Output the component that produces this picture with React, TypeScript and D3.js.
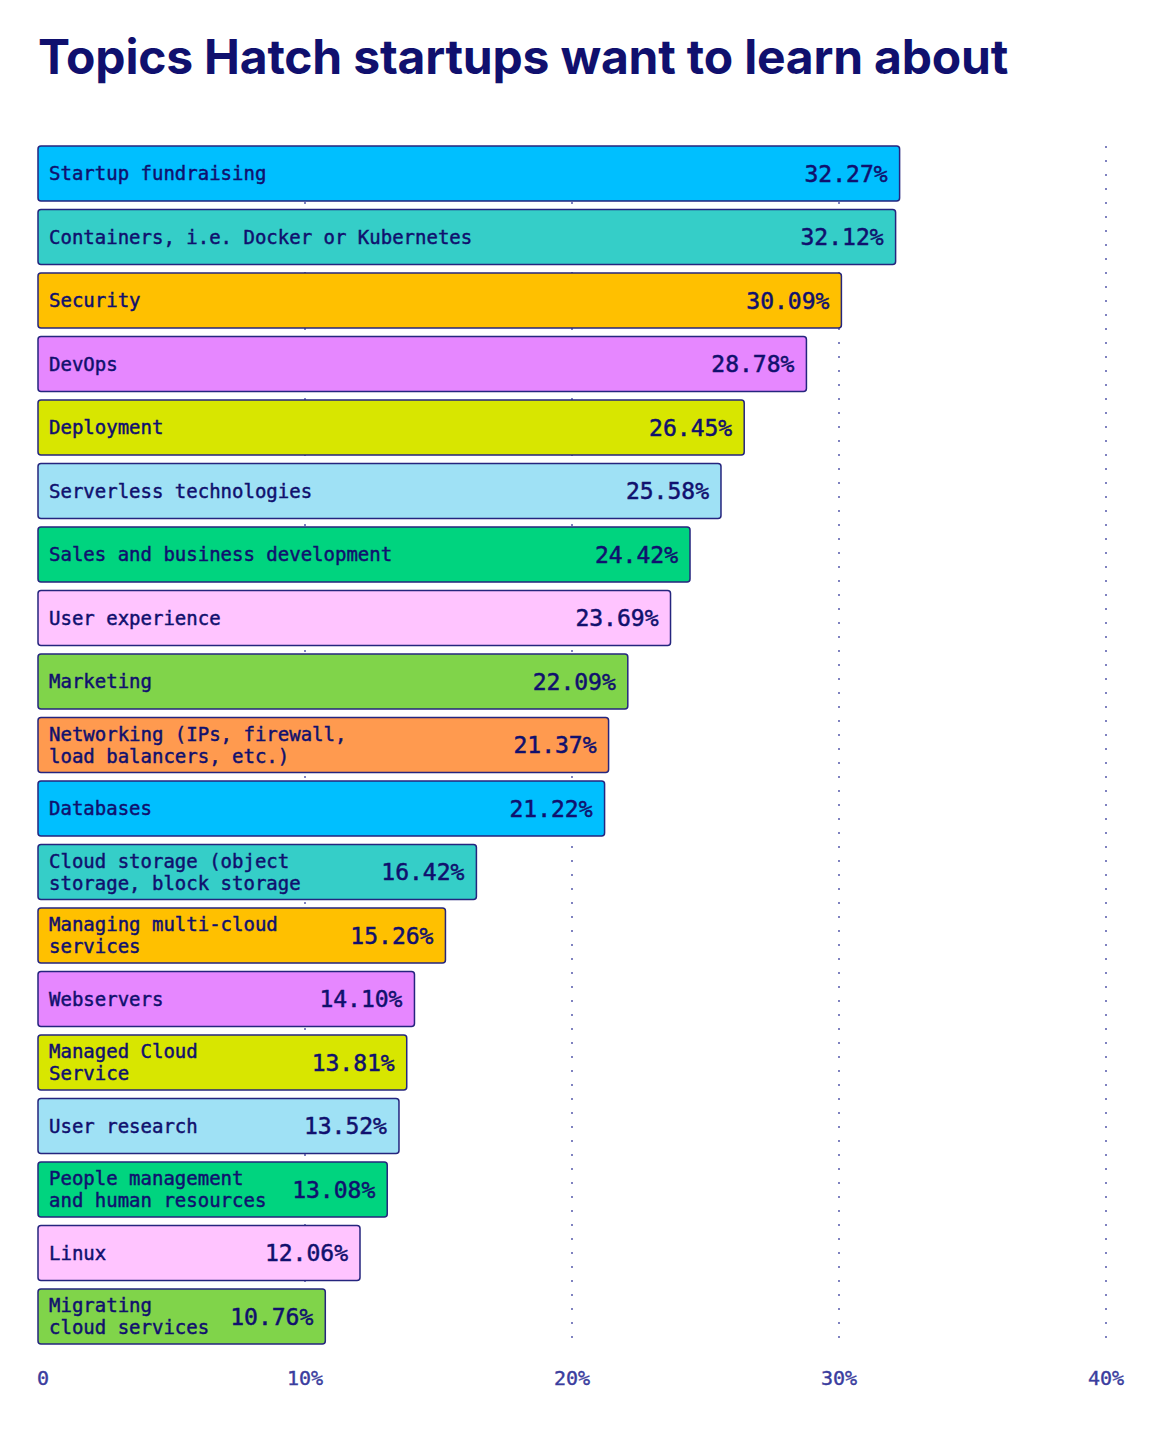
import React, { useEffect, useRef } from 'react';
import * as d3 from 'd3';

// Topic labels (multi-line labels are split on "\n")
const topics = [
  'Startup fundraising',
  'Containers, i.e. Docker or Kubernetes',
  'Security',
  'DevOps',
  'Deployment',
  'Serverless technologies',
  'Sales and business development',
  'User experience',
  'Marketing',
  'Networking (IPs, firewall,\nload balancers, etc.)',
  'Databases',
  'Cloud storage (object\nstorage, block storage',
  'Managing multi-cloud\nservices',
  'Webservers',
  'Managed Cloud\nService',
  'User research',
  'People management\nand human resources',
  'Linux',
  'Migrating\ncloud services',
];

// Share of respondents, in percent
const shares = [
  32.27, 32.12, 30.09, 28.78, 26.45, 25.58, 24.42, 23.69, 22.09, 21.37,
  21.22, 16.42, 15.26, 14.1, 13.81, 13.52, 13.08, 12.06, 10.76,
];

const tickValues = [0, 10, 20, 30, 40];

const palette = [
  '#00bfff', '#35cec8', '#ffc000', '#e687ff', '#d8e600',
  '#9fe1f5', '#00d47f', '#ffc4ff', '#80d44a', '#ff9a4f',
];

const NAVY = '#10106e';
const AXIS_TEXT = '#3a3d9e';
const MONO = '"DejaVu Sans Mono", "Liberation Mono", monospace';

const Chart: React.FC = () => {
  const ref = useRef<SVGSVGElement>(null);

  useEffect(() => {
    if (!ref.current) return;
    const width = 1162;
    const height = 1432;
    const margin = { top: 146, left: 38, bottom: 88 };

    const svg = d3.select(ref.current);
    svg.selectAll('*').remove();
    svg.attr('width', width).attr('height', height);

    svg.append('text')
      .attr('x', 38)
      .attr('y', 74)
      .attr('fill', NAVY)
      .attr('font-family', 'Inter, "Noto Sans", sans-serif')
      .attr('font-weight', 700)
      .attr('font-size', 48)
      .attr('letter-spacing', -0.2)
      .text('Topics Hatch startups want to learn about');

    const x = d3.scaleLinear().domain([0, 40]).range([margin.left, 1106]);

    const data = topics.map((t, i) => ({ topic: t, value: shares[i], idx: i }));

    const y = d3.scaleBand<number>()
      .domain(data.map(d => d.idx))
      .range([margin.top, height - margin.bottom])
      .paddingInner(0.135)
      .paddingOuter(0);

    // Dotted gridlines
    svg.append('g')
      .selectAll('line')
      .data(tickValues.filter(v => v > 0))
      .enter().append('line')
      .attr('x1', d => x(d))
      .attr('x2', d => x(d))
      .attr('y1', margin.top)
      .attr('y2', height - margin.bottom)
      .attr('stroke', '#7f82c0')
      .attr('stroke-width', 2)
      .attr('stroke-dasharray', '2 12');

    const rows = svg.append('g')
      .selectAll('g')
      .data(data)
      .enter().append('g');

    rows.append('rect')
      .attr('x', x(0))
      .attr('y', d => y(d.idx) || 0)
      .attr('width', d => x(d.value) - x(0))
      .attr('height', y.bandwidth())
      .attr('rx', 3)
      .attr('fill', d => palette[d.idx % palette.length])
      .attr('stroke', '#25257e')
      .attr('stroke-width', 1.5);

    // Topic labels
    rows.each(function (d) {
      const lines = d.topic.split('\n');
      const cy = (y(d.idx) || 0) + y.bandwidth() / 2;
      const lh = 22;
      const t = d3.select(this).append('text')
        .attr('fill', NAVY)
        .attr('stroke', NAVY)
        .attr('stroke-width', 0.45)
        .attr('font-family', MONO)
        .attr('font-size', 19);
      lines.forEach((line, i) => {
        t.append('tspan')
          .attr('x', x(0) + 11)
          .attr('y', cy + (i - (lines.length - 1) / 2) * lh)
          .attr('dy', '0.35em')
          .text(line);
      });
    });

    // Value labels
    rows.append('text')
      .attr('x', d => x(d.value) - 12)
      .attr('y', d => (y(d.idx) || 0) + y.bandwidth() / 2)
      .attr('dy', '0.36em')
      .attr('text-anchor', 'end')
      .attr('fill', NAVY)
      .attr('stroke', NAVY)
      .attr('stroke-width', 0.5)
      .attr('font-family', MONO)
      .attr('font-size', 23)
      .text(d => `${d.value.toFixed(2)}%`);

    // Axis labels
    svg.append('g')
      .selectAll('text')
      .data(tickValues)
      .enter().append('text')
      .attr('x', d => (d === 0 ? x(d) - 1 : x(d)))
      .attr('y', height - margin.bottom + 34)
      .attr('dy', '0.35em')
      .attr('text-anchor', d => (d === 0 ? 'start' : 'middle'))
      .attr('fill', AXIS_TEXT)
      .attr('stroke', AXIS_TEXT)
      .attr('stroke-width', 0.4)
      .attr('font-family', MONO)
      .attr('font-size', 20)
      .text(d => (d === 0 ? '0' : `${d}%`));
  }, []);

  return <svg ref={ref} style={{ display: 'block' }}></svg>;
};

export default function App() {
  return (
    <div style={{ position: 'absolute', top: 0, left: 0, background: '#fff' }}>
      <Chart />
    </div>
  );
}
